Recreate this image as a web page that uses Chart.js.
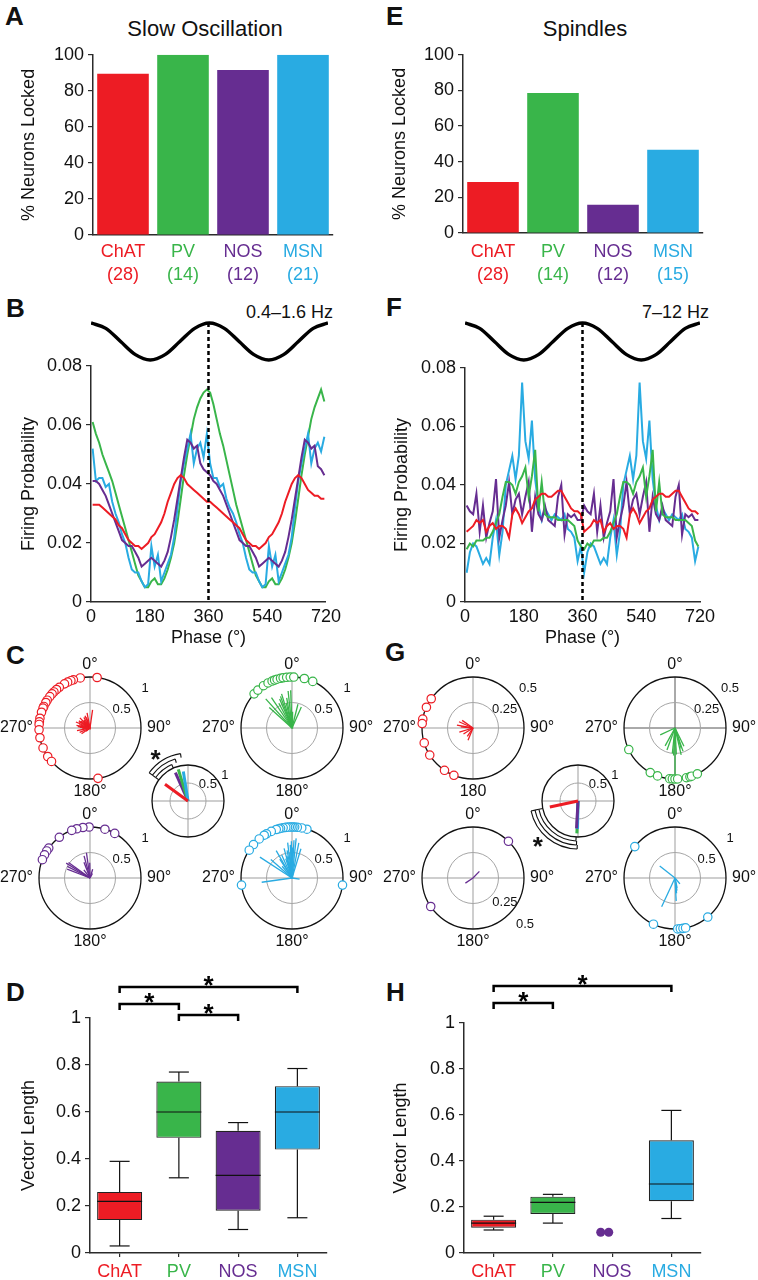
<!DOCTYPE html>
<html><head>
<meta charset="UTF-8">
<title>Phase locking of striatal neurons</title>
<script src="https://cdn.jsdelivr.net/npm/chart.js"></script>
<style>
  body { margin: 0; background: #fff; }
  #fig { position: relative; width: 758px; height: 1280px; overflow: hidden; background: #fff;
         font-family: 'Liberation Sans', Arial, sans-serif; color: #111; }
  #fig canvas { position: absolute; }
  .lbl { position: absolute; white-space: nowrap; line-height: 1; }
  .letter { font-weight: bold; font-size: 26px; }
  .title { font-size: 22px; transform: translateX(-50%); }
  .band { font-size: 18px; }
</style>
</head><body>
<div id="fig">
  <div class="lbl letter" style="left:5px;top:3px">A</div>
  <div class="lbl letter" style="left:386px;top:3px">E</div>
  <div class="lbl letter" style="left:6px;top:295px">B</div>
  <div class="lbl letter" style="left:386px;top:294px">F</div>
  <div class="lbl letter" style="left:6px;top:642px">C</div>
  <div class="lbl letter" style="left:385px;top:639px">G</div>
  <div class="lbl letter" style="left:6px;top:979px">D</div>
  <div class="lbl letter" style="left:386px;top:979px">H</div>
  <div class="lbl title" style="left:205px;top:18px">Slow Oscillation</div>
  <div class="lbl title" style="left:585px;top:18px">Spindles</div>
  <div class="lbl band" style="right:425px;top:303px">0.4–1.6 Hz</div>
  <div class="lbl band" style="right:49px;top:303px">7–12 Hz</div>
</div>
<script>
// ---------- data ----------
const CELLS = ['ChAT', 'PV', 'NOS', 'MSN'];
const CELL_COLORS = ['#ed1c24', '#39b54a', '#662d91', '#29abe2'];
const N_SLOW = ['(28)', '(14)', '(12)', '(21)'];
const N_SPIN = ['(28)', '(14)', '(12)', '(15)'];
const LOCKED_SLOW = [89.5, 100, 91.5, 100];
const LOCKED_SPIN = [28.6, 78.6, 15.8, 46.7];
const PCT_TICKS = [0, 20, 40, 60, 80, 100];

// phase bin centres, two cycles (deg)
const PHASE = [5,15,25,35,45,55,65,75,85,95,105,115,125,135,145,155,165,175,185,195,205,215,225,235,
  245,255,265,275,285,295,305,315,325,335,345,355,365,375,385,395,405,415,425,435,445,455,465,475,
  485,495,505,515,525,535,545,555,565,575,585,595,605,615,625,635,645,655,665,675,685,695,705,715];
const PHASE_TICKS = [0, 180, 360, 540, 720];

// B: slow oscillation firing probability
const SO_CHAT = [0.033,0.033,0.033,0.032,0.031,0.030,0.029,0.028,0.026,0.025,0.023,0.021,0.020,0.019,0.019,0.018,0.019,0.020,
  0.022,0.023,0.025,0.027,0.030,0.034,0.037,0.040,0.042,0.043,0.042,0.040,0.039,0.038,0.037,0.036,0.035,0.034,
  0.034,0.033,0.032,0.031,0.030,0.029,0.028,0.027,0.026,0.025,0.023,0.021,0.020,0.019,0.019,0.018,0.019,0.020,
  0.022,0.023,0.025,0.027,0.030,0.034,0.037,0.040,0.042,0.043,0.042,0.040,0.038,0.037,0.036,0.036,0.035,0.035];
const SO_PV = [0.061,0.057,0.054,0.050,0.047,0.044,0.041,0.037,0.033,0.029,0.025,0.021,0.017,0.013,0.009,0.007,0.005,0.005,
  0.007,0.008,0.006,0.006,0.008,0.011,0.015,0.020,0.027,0.035,0.043,0.050,0.056,0.062,0.066,0.069,0.071,0.072,
  0.071,0.067,0.062,0.057,0.053,0.048,0.043,0.038,0.033,0.029,0.025,0.021,0.017,0.013,0.009,0.007,0.005,0.005,
  0.007,0.008,0.006,0.006,0.008,0.011,0.015,0.020,0.027,0.035,0.043,0.050,0.056,0.062,0.066,0.069,0.072,0.068];
const SO_NOS = [0.041,0.041,0.040,0.038,0.036,0.033,0.030,0.027,0.024,0.021,0.020,0.019,0.019,0.017,0.015,0.012,0.013,0.014,
  0.015,0.014,0.013,0.012,0.014,0.017,0.022,0.028,0.035,0.042,0.049,0.055,0.054,0.052,0.053,0.047,0.045,0.044,
  0.043,0.041,0.040,0.038,0.036,0.033,0.030,0.027,0.024,0.021,0.020,0.019,0.019,0.017,0.015,0.012,0.013,0.014,
  0.015,0.014,0.013,0.012,0.014,0.017,0.022,0.028,0.035,0.042,0.049,0.055,0.054,0.052,0.053,0.046,0.045,0.043];
const SO_MSN = [0.052,0.041,0.042,0.042,0.039,0.040,0.034,0.030,0.027,0.023,0.020,0.015,0.011,0.010,0.010,0.007,0.005,0.006,
  0.019,0.012,0.016,0.007,0.010,0.013,0.016,0.022,0.032,0.041,0.047,0.052,0.057,0.047,0.052,0.054,0.049,0.057,
  0.047,0.042,0.042,0.039,0.040,0.035,0.032,0.030,0.027,0.023,0.020,0.015,0.011,0.010,0.010,0.007,0.005,0.006,
  0.019,0.012,0.016,0.007,0.010,0.013,0.016,0.022,0.032,0.041,0.047,0.052,0.057,0.047,0.052,0.054,0.051,0.056];

// F: spindle firing probability (one cycle, plotted twice)
const SP_CHAT = [0.024,0.025,0.026,0.028,0.027,0.028,0.024,0.026,0.027,0.025,0.026,0.026,0.025,0.022,0.030,0.032,0.030,0.027,
  0.029,0.031,0.032,0.035,0.036,0.037,0.037,0.036,0.036,0.037,0.038,0.038,0.036,0.034,0.032,0.031,0.031,0.030];
const SP_PV = [0.018,0.020,0.019,0.021,0.021,0.021,0.022,0.022,0.024,0.027,0.030,0.036,0.041,0.041,0.040,0.037,0.041,0.043,
  0.046,0.036,0.043,0.052,0.031,0.041,0.030,0.029,0.029,0.029,0.028,0.028,0.028,0.028,0.027,0.026,0.021,0.019];
const SP_NOS = [0.033,0.031,0.030,0.037,0.024,0.033,0.022,0.027,0.031,0.042,0.022,0.028,0.033,0.041,0.030,0.035,0.037,0.030,
  0.036,0.041,0.024,0.036,0.030,0.028,0.033,0.028,0.027,0.026,0.036,0.040,0.023,0.030,0.029,0.030,0.028,0.028];
const SP_MSN = [0.010,0.017,0.020,0.019,0.016,0.013,0.015,0.013,0.022,0.028,0.016,0.024,0.040,0.045,0.050,0.042,0.050,0.075,
  0.055,0.049,0.062,0.042,0.033,0.028,0.032,0.030,0.028,0.030,0.029,0.028,0.030,0.025,0.024,0.022,0.014,0.019];

// reference oscillation drawn above B and F
const WAVE_PHASE = [0,45,90,135,180,225,270,315,360,405,450,495,540,585,630,675,720];
const WAVE = [1,0.71,0,-0.71,-1,-0.71,0,0.71,1,0.71,0,-0.71,-1,-0.71,0,0.71,1];

// C: preferred phase (deg) and vector length per neuron, slow oscillation
const SO_ANG_CHAT = [8,349,341,338,334,330,323,319,315,312,308,303,300,295,293,288,281,277,274,268,259,247,236,229,171];
const SO_LEN_CHAT = [0.36,0.30,0.22,0.26,0.14,0.24,0.20,0.18,0.28,0.16,0.22,0.26,0.25,0.12,0.30,0.22,0.27,0.24,0.20,0.15,0.26,0.22,0.20,0.10,0.03];
const SO_ANG_PV = [312,318,326,332,337,340,343,347,350,354,358,2,14,24];
const SO_LEN_PV = [0.60,0.77,0.72,0.55,0.62,0.66,0.70,0.50,0.60,0.73,0.74,0.32,0.48,0.45];
const SO_ANG_NOS = [29,17,359,352,345,339,323,306,302,297,291];
const SO_LEN_NOS = [0.10,0.18,0.30,0.50,0.45,0.33,0.20,0.52,0.55,0.50,0.48];
const SO_ANG_MSN = [98,17,11,6,3,1,359,357,355,353,350,347,345,342,336,330,327,320,311,303,262];
const SO_LEN_MSN = [0.15,0.60,0.70,0.78,0.74,0.60,0.72,0.65,0.50,0.70,0.55,0.44,0.60,0.40,0.50,0.62,0.44,0.30,0.55,0.75,0.60];
const SO_MEAN_ANG = [306, 343, 336, 351];
const SO_MEAN_LEN = [0.79, 0.92, 0.86, 0.83];

// G: same for spindles
const SP_ANG_CHAT = [305,294,280,275,253,238,214,202];
const SP_LEN_CHAT = [0.13,0.15,0.16,0.12,0.14,0.11,0.10,0.13];
const SP_ANG_PV = [245,209,200,186,183,180,177,167,163,161,154];
const SP_LEN_PV = [0.16,0.20,0.23,0.25,0.27,0.47,0.26,0.27,0.21,0.24,0.20];
const SP_ANG_NOS = [44, 236];
const SP_LEN_NOS = [0.09, 0.09];
const SP_ANG_MSN = [308,205,177,174,171,168,140];
const SP_LEN_MSN = [0.38,0.62,0.45,0.30,0.25,0.20,0.15];
const SP_MEAN_ANG = [258, 182, 183, 181];
const SP_MEAN_LEN = [0.80, 0.90, 0.76, 0.78];

// D / H: vector length box plots
const SO_LO  = [0.03, 0.32, 0.10, 0.15];
const SO_Q1  = [0.14, 0.49, 0.18, 0.44];
const SO_MED = [0.22, 0.60, 0.33, 0.60];
const SO_Q3  = [0.26, 0.73, 0.52, 0.71];
const SO_HI  = [0.39, 0.77, 0.555, 0.785];
const SP_LO  = [0.10, 0.13, null, 0.15];
const SP_Q1  = [0.11, 0.17, null, 0.225];
const SP_MED = [0.13, 0.22, null, 0.30];
const SP_Q3  = [0.145, 0.245, null, 0.49];
const SP_HI  = [0.16, 0.255, null, 0.62];
const SP_NOS_POINTS = [0.09, 0.09];
const SIG_SO = [[0, 3], [0, 1], [1, 2]];
const SIG_SP = [[0, 3], [0, 1]];

// ---------- setup ----------
const FONT = "'Liberation Sans', Arial, sans-serif";
const AXIS = '#2b2b2b';
const DEG = Math.PI / 180;
Chart.defaults.font.family = FONT;
Chart.defaults.font.size = 18;
Chart.defaults.color = '#111';
Chart.defaults.animation = false;
Chart.defaults.responsive = false;
Chart.defaults.maintainAspectRatio = false;
Chart.defaults.events = [];
Chart.defaults.plugins.legend.display = false;
Chart.defaults.plugins.tooltip.enabled = false;

function makeCanvas(left, top, w, h) {
  const c = document.createElement('canvas');
  c.width = w; c.height = h;
  c.style.cssText = `left:${left}px;top:${top}px;width:${w}px;height:${h}px`;
  document.getElementById('fig').appendChild(c);
  return c;
}

function yAxis(min, max, step, title, width, titlePad) {
  return {
    min, max,
    ticks: { stepSize: step, padding: 4, callback: v => String(Math.round(v * 1000) / 1000) },
    grid: { drawOnChartArea: false, tickLength: 5, color: AXIS, lineWidth: 1.2 },
    border: { color: AXIS, width: 1.5 },
    title: { display: true, text: title, padding: { top: titlePad, bottom: 0 } },
    afterFit: s => { s.width = width; }
  };
}

function catAxis(height, pad, drawTicks, lineHeight) {
  return {
    offset: true,
    ticks: { color: c => CELL_COLORS[c.index], padding: pad, font: { size: 18, lineHeight } },
    grid: { drawOnChartArea: false, offset: false, drawTicks, tickLength: 4, color: AXIS, lineWidth: 1.2 },
    border: { color: AXIS, width: 1.5 },
    afterFit: s => { s.height = height; }
  };
}

function drawStar(ctx, x, y) {
  ctx.font = 'bold 26px ' + FONT;
  ctx.textAlign = 'center';
  ctx.textBaseline = 'alphabetic';
  ctx.fillText('*', x, y + 15);
}

// ---------- A / E ----------
function lockedChart(left, yw, padTop, padRight, xh, xpad, titlePad, counts, values) {
  new Chart(makeCanvas(left, 40, 345, 245), {
    type: 'bar',
    data: {
      labels: CELLS.map((c, i) => [c, counts[i]]),
      datasets: [{ data: values, backgroundColor: CELL_COLORS, barPercentage: 0.86, categoryPercentage: 1 }]
    },
    options: {
      layout: { padding: { top: padTop, right: padRight, left: 0, bottom: 0 } },
      scales: {
        x: catAxis(xh, xpad, false, 1.3),
        y: Object.assign(yAxis(0, 100, 20, '% Neurons Locked', yw, titlePad),
          { afterBuildTicks: s => { s.ticks = PCT_TICKS.map(v => ({ value: v })); } })
      }
    }
  });
}
lockedChart(0, 93, 13, 12, 50, 5, 18.7, N_SLOW, LOCKED_SLOW);
lockedChart(379, 84, 14, 21, 52, 7, 10.7, N_SPIN, LOCKED_SPIN);

// ---------- B / F ----------
const peakLine = {
  id: 'peakLine',
  afterDatasetsDraw(chart, args, o) {
    const { ctx, chartArea, scales: { x } } = chart;
    const px = x.getPixelForValue(o.at);
    ctx.save();
    ctx.setLineDash([4, 3]);
    ctx.lineWidth = 2.5;
    ctx.strokeStyle = '#000';
    ctx.beginPath();
    ctx.moveTo(px, chartArea.top - o.rise);
    ctx.lineTo(px, chartArea.bottom);
    ctx.stroke();
    ctx.restore();
  }
};

function phaseChart(left, yw, padTop, padRight, titlePad, rise, series) {
  new Chart(makeCanvas(left, 300, 345, 350), {
    type: 'line',
    data: {
      datasets: series.map(([vals, ci]) => ({
        data: PHASE.map((p, i) => ({ x: p, y: vals[i] })),
        borderColor: CELL_COLORS[ci], borderWidth: 2, pointRadius: 0, tension: 0
      }))
    },
    options: {
      layout: { padding: { top: padTop, right: padRight, left: 0, bottom: 0 } },
      scales: {
        x: {
          type: 'linear', min: 0, max: 720,
          afterBuildTicks: s => { s.ticks = PHASE_TICKS.map(v => ({ value: v })); },
          ticks: { padding: 4 },
          grid: { drawOnChartArea: false, drawTicks: false },
          border: { color: AXIS, width: 1.5 },
          title: { display: true, text: 'Phase (°)', padding: { top: 0, bottom: 1.2 } },
          afterFit: s => { s.height = 48; }
        },
        y: yAxis(0, 0.08, 0.02, 'Firing Probability', yw, titlePad)
      },
      plugins: { peakLine: { at: 360, rise } }
    },
    plugins: [peakLine]
  });
}

function waveChart(left, width) {
  new Chart(makeCanvas(left, 319, width, 45), {
    type: 'line',
    data: { datasets: [{
      data: WAVE_PHASE.map((p, i) => ({ x: p, y: WAVE[i] })),
      borderColor: '#000', borderWidth: 3.5, pointRadius: 0, cubicInterpolationMode: 'monotone', clip: false
    }] },
    options: {
      layout: { padding: { top: 4, bottom: 4, left: 0, right: 0 } },
      scales: {
        x: { type: 'linear', display: false, min: 0, max: 720 },
        y: { display: false, min: -1, max: 1 }
      }
    }
  });
}

// first listed series is drawn on top
phaseChart(0, 91, 66, 17, 18.7, 43,
  [[SO_CHAT, 0], [SO_NOS, 2], [SO_MSN, 3], [SO_PV, 1]]);
phaseChart(379, 86, 68, 24, 12.7, 45,
  [[SP_CHAT.concat(SP_CHAT), 0], [SP_PV.concat(SP_PV), 1], [SP_NOS.concat(SP_NOS), 2], [SP_MSN.concat(SP_MSN), 3]]);
waveChart(91, 237);
waveChart(465, 235);

// ---------- C / G polar plots ----------
function polarPlugin(o) {
  return {
    id: 'polarGrid',
    beforeDatasetsDraw(chart) {
      const { ctx, scales: { x, y } } = chart;
      const cx = x.getPixelForValue(0), cy = y.getPixelForValue(0);
      const R = x.getPixelForValue(o.rMax) - cx, r = x.getPixelForValue(o.rInner) - cx;
      ctx.save();
      ctx.lineWidth = 1;
      ctx.strokeStyle = o.cross || '#9d9d9d';
      ctx.beginPath();
      ctx.moveTo(cx - R, cy); ctx.lineTo(cx + R, cy);
      ctx.moveTo(cx, cy - R); ctx.lineTo(cx, cy + R);
      ctx.stroke();
      ctx.strokeStyle = '#a5a5a5';
      ctx.beginPath(); ctx.arc(cx, cy, r, 0, Math.PI * 2); ctx.stroke();
      ctx.strokeStyle = '#111'; ctx.lineWidth = 1.3;
      ctx.beginPath(); ctx.arc(cx, cy, R, 0, Math.PI * 2); ctx.stroke();
      ctx.restore();
    },
    afterDraw(chart) {
      const { ctx, scales: { x, y } } = chart;
      const cx = x.getPixelForValue(0), cy = y.getPixelForValue(0);
      const R = x.getPixelForValue(o.rMax) - cx, r = x.getPixelForValue(o.rInner) - cx;
      const at = (deg, d) => [cx + d * Math.sin(deg * DEG), cy - d * Math.cos(deg * DEG)];
      ctx.save();
      ctx.fillStyle = '#111';
      ctx.textBaseline = 'middle';
      ctx.font = '16px ' + FONT;
      const [n, e, s, w] = o.compass || [];
      if (n) { ctx.textAlign = 'center'; ctx.fillText(n, cx, cy - R - 12); }
      if (e) { ctx.textAlign = 'left'; ctx.fillText(e, cx + R + 6, cy); }
      if (s) { ctx.textAlign = 'center'; ctx.fillText(s, cx, cy + R + 13); }
      if (w) { ctx.textAlign = 'right'; ctx.fillText(w, cx - R - 6, cy); }
      ctx.font = '13px ' + FONT;
      ctx.textAlign = 'center';
      const ra = o.ringAng || [54, 60], rg = o.ringGap || [17, 11];
      let p = at(ra[0], R + rg[0]); ctx.fillText(o.rings[0], p[0], p[1]);
      p = at(ra[1], r + rg[1]); ctx.fillText(o.rings[1], p[0], p[1]);
      if (o.sig) {
        const from = o.sig.from;
        const tos = o.sig.to.slice().sort((a, b) => Math.abs(a - from) - Math.abs(b - from));
        ctx.strokeStyle = '#111';
        ctx.lineWidth = 1.1;
        tos.forEach((t, i) => {
          const rho = R + 4 + 4 * i;
          const a1 = Math.min(from, t), a2 = Math.max(from, t);
          ctx.beginPath();
          ctx.arc(cx, cy, rho, (a1 - 90) * DEG, (a2 - 90) * DEG);
          ctx.stroke();
          [a1, a2].forEach(a => {
            const p1 = at(a, rho), p2 = at(a, rho - 4);
            ctx.beginPath(); ctx.moveTo(p1[0], p1[1]); ctx.lineTo(p2[0], p2[1]); ctx.stroke();
          });
        });
        const sp = at(o.sig.star[0], o.sig.star[1]);
        drawStar(ctx, sp[0], sp[1]);
      }
      ctx.restore();
    }
  };
}

function polar(cx, cy, R, pad, cfg) {
  const S = 2 * (R + pad);
  const datasets = [];
  // markers first so they sit on top of the vectors
  if (cfg.marks) datasets.push({
    data: cfg.marks.ang.map(a => ({ x: cfg.rMax * Math.sin(a * DEG), y: cfg.rMax * Math.cos(a * DEG) })),
    showLine: false, pointRadius: 4.2, borderWidth: 1.2,
    backgroundColor: '#fff', borderColor: cfg.marks.color,
    pointBackgroundColor: '#fff', pointBorderColor: cfg.marks.color, clip: false
  });
  cfg.vecs.forEach(v => v.ang.forEach((a, i) => datasets.push({
    data: [{ x: 0, y: 0 }, { x: v.len[i] * Math.sin(a * DEG), y: v.len[i] * Math.cos(a * DEG) }],
    showLine: true, borderColor: v.color, borderWidth: v.width || 1.3, pointRadius: 0, clip: false
  })));
  new Chart(makeCanvas(cx - R - pad, cy - R - pad, S, S), {
    type: 'scatter',
    data: { datasets },
    options: {
      layout: { padding: pad },
      scales: {
        x: { type: 'linear', display: false, min: -cfg.rMax, max: cfg.rMax },
        y: { type: 'linear', display: false, min: -cfg.rMax, max: cfg.rMax }
      }
    },
    plugins: [polarPlugin(cfg)]
  });
}

const COMPASS = ['0°', '90°', '180°', '270°'];
function cellPolar(cx, cy, ci, ang, len, rMax, rInner, rings, extra) {
  polar(cx, cy, 51, 45, Object.assign({
    rMax, rInner, rings, compass: COMPASS,
    vecs: [{ ang, len, color: CELL_COLORS[ci] }],
    marks: { ang, color: CELL_COLORS[ci] }
  }, extra || {}));
}
// order: first listed vector is drawn on top
function meanPolar(cx, cy, ang, len, order, sig) {
  polar(cx, cy, 36, 30, {
    rMax: 1, rInner: 0.5, rings: ['1', '0.5'], ringGap: [9, 7.6], ringAng: [55, 51],
    vecs: order.map(i => ({ ang: [ang[i]], len: [len[i]], color: CELL_COLORS[i], width: 3 })),
    sig: { from: ang[0], to: ang.slice(1), star: sig }
  });
}

cellPolar(90, 728, 0, SO_ANG_CHAT, SO_LEN_CHAT, 1, 0.5, ['1', '0.5']);
cellPolar(292, 728, 1, SO_ANG_PV, SO_LEN_PV, 1, 0.5, ['1', '0.5']);
cellPolar(90, 878, 2, SO_ANG_NOS, SO_LEN_NOS, 1, 0.5, ['1', '0.5']);
cellPolar(292, 878, 3, SO_ANG_MSN, SO_LEN_MSN, 1, 0.5, ['1', '0.5']);
meanPolar(188, 801, SO_MEAN_ANG, SO_MEAN_LEN, [0, 3, 1, 2], [326, 58]);

cellPolar(473, 728, 0, SP_ANG_CHAT, SP_LEN_CHAT, 0.5, 0.25, ['0.5', '0.25'],
  { compass: ['0°', '90°', '180', '270°'] });
cellPolar(675, 728, 1, SP_ANG_PV, SP_LEN_PV, 0.5, 0.25, ['0.5', '0.25'], { cross: '#555' });
cellPolar(473, 878, 2, SP_ANG_NOS, SP_LEN_NOS, 0.5, 0.25, ['0.5', '0.25'],
  { ringAng: [132, 127], ringGap: [19, 14.5] });
cellPolar(675, 878, 3, SP_ANG_MSN, SP_LEN_MSN, 1, 0.5, ['1', '0.5']);
meanPolar(578, 801, SP_MEAN_ANG, SP_MEAN_LEN, [0, 2, 3, 1], [226, 56]);

// ---------- D / H box plots ----------
function boxPlugin(st, sig, rises) {
  return {
    id: 'boxes',
    afterDatasetsDraw(chart) {
      const { ctx, scales: { y } } = chart;
      const bars = chart.getDatasetMeta(0).data;
      const seg = (x1, y1, x2, y2) => { ctx.beginPath(); ctx.moveTo(x1, y1); ctx.lineTo(x2, y2); ctx.stroke(); };
      ctx.save();
      ctx.strokeStyle = '#111';
      ctx.lineWidth = 1.2;
      st.med.forEach((m, i) => {
        if (m == null) return;
        const cx = bars[i].x, hw = bars[i].width / 2, cap = 10;
        const py = v => y.getPixelForValue(v);
        seg(cx - hw, py(m), cx + hw, py(m));
        seg(cx, py(st.q1[i]), cx, py(st.lo[i]));
        seg(cx, py(st.q3[i]), cx, py(st.hi[i]));
        seg(cx - cap, py(st.lo[i]), cx + cap, py(st.lo[i]));
        seg(cx - cap, py(st.hi[i]), cx + cap, py(st.hi[i]));
      });
      ctx.restore();
    },
    afterDraw(chart) {
      const { ctx, chartArea, scales: { x } } = chart;
      ctx.save();
      ctx.strokeStyle = '#000';
      ctx.fillStyle = '#000';
      ctx.lineWidth = 2.5;
      sig.forEach(([a, b], k) => {
        const by = chartArea.top - rises[k];
        const xa = x.getPixelForValue(a), xb = x.getPixelForValue(b);
        ctx.beginPath();
        ctx.moveTo(xa, by + 6); ctx.lineTo(xa, by); ctx.lineTo(xb, by); ctx.lineTo(xb, by + 6);
        ctx.stroke();
        drawStar(ctx, (xa + xb) / 2, by - 8);
      });
      ctx.restore();
    }
  };
}

function boxChart(left, yw, padTop, padRight, titlePad, st, dots, sig, rises) {
  const datasets = [{
    type: 'bar', grouped: false,
    data: st.q1.map((q, i) => (q == null ? null : [q, st.q3[i]])),
    backgroundColor: CELL_COLORS, borderColor: '#222', borderWidth: 1.2, borderSkipped: false,
    barPercentage: 0.76, categoryPercentage: 1
  }];
  if (dots) datasets.push({
    type: 'scatter', xAxisID: 'xs',
    data: dots.map((v, k) => ({ x: 2 + (k - 0.5) * 0.18, y: v })),
    pointRadius: 4.5, backgroundColor: CELL_COLORS[2], borderColor: CELL_COLORS[2], borderWidth: 0
  });
  new Chart(makeCanvas(left, 960, 345, 320), {
    type: 'bar',
    data: { labels: CELLS, datasets },
    options: {
      layout: { padding: { top: padTop, right: padRight, left: 0, bottom: 0 } },
      scales: {
        x: catAxis(27, 4, true, 1.2),
        xs: { type: 'linear', display: false, min: -0.5, max: 3.5 },
        y: yAxis(0, 1, 0.2, 'Vector Length', yw, titlePad)
      }
    },
    plugins: [boxPlugin(st, sig, rises)]
  });
}

boxChart(0, 90, 58, 18, 18.7,
  { lo: SO_LO, q1: SO_Q1, med: SO_MED, q3: SO_Q3, hi: SO_HI }, null, SIG_SO, [31, 14, 3]);
boxChart(379, 85, 63, 23, 11.7,
  { lo: SP_LO, q1: SP_Q1, med: SP_MED, q3: SP_Q3, hi: SP_HI }, SP_NOS_POINTS, SIG_SP, [37, 20]);
</script>
</body></html>
